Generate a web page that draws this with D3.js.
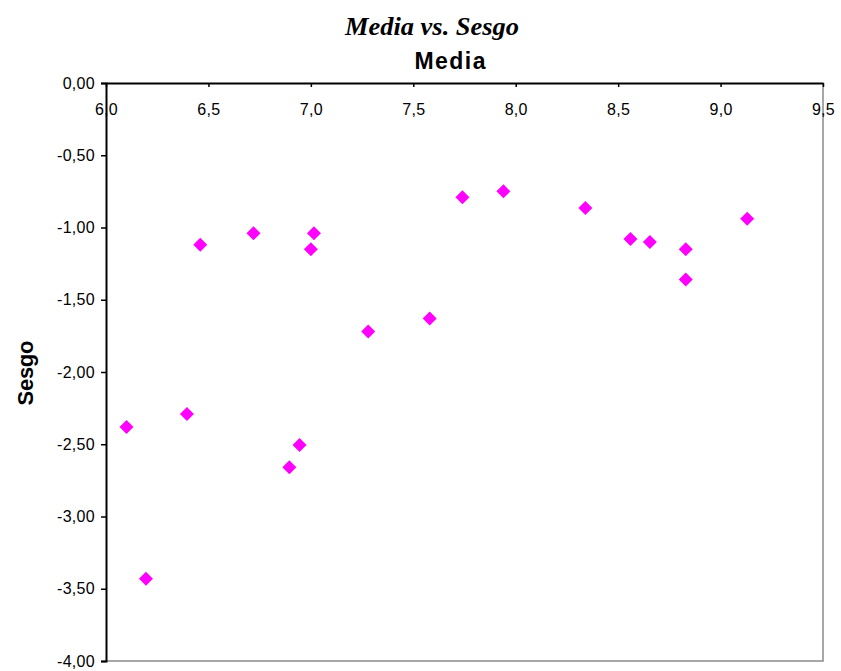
<!DOCTYPE html>
<html><head><meta charset="utf-8">
<script src="https://cdn.jsdelivr.net/npm/d3@7"></script>
<style>body{margin:0;background:#fff}svg{display:block}</style>
</head><body>
<script>
const media = [6.10, 6.195, 6.395, 6.46, 6.72, 6.895, 6.945, 7.00, 7.015, 7.28, 7.58, 7.74, 7.94, 8.34, 8.56, 8.655, 8.83, 8.83, 9.13];
const sesgo = [-2.38, -3.43, -2.29, -1.12, -1.04, -2.66, -2.505, -1.15, -1.04, -1.72, -1.63, -0.79, -0.75, -0.865, -1.08, -1.10, -1.15, -1.36, -0.94];
const xTicks = [6.0, 6.5, 7.0, 7.5, 8.0, 8.5, 9.0, 9.5];
const yTicks = [0, -0.5, -1.0, -1.5, -2.0, -2.5, -3.0, -3.5, -4.0];
const title = "Media vs. Sesgo";
const xTitle = "Media";
const yTitle = "Sesgo";

const W = 841, H = 671;
const L = 106, R = 823, T = 83, B = 661;
const svg = d3.select("body").append("svg").attr("width", W).attr("height", H);
const x = d3.scaleLinear().domain([6, 9.5]).range([L, R]);
const y = d3.scaleLinear().domain([0, -4]).range([T, B]);
const fmtX = v => v.toFixed(1).replace(".", ",");
const fmtY = v => v.toFixed(2).replace(".", ",");

// plot border (gray right/bottom)
svg.append("path").attr("d", `M${R},${T}V${B}H${L}`).attr("fill", "none").attr("stroke", "#8a8a8a").attr("stroke-width", 1.5);

const tickFont = "Arial, 'Liberation Sans', sans-serif";
// y axis
const ya = svg.append("g").attr("transform", `translate(${L},0)`)
  .call(d3.axisLeft(y).tickValues(yTicks).tickFormat(fmtY).tickSize(5).tickPadding(6));
ya.select(".domain").attr("stroke", "#000").attr("stroke-width", 2);
ya.selectAll(".tick line").attr("stroke", "#000").attr("stroke-width", 1.5);
ya.selectAll(".tick text").attr("font-family", tickFont).attr("font-size", 16).attr("fill", "#000").attr("letter-spacing", 0.3);

// x axis at top (y=0), ticks inward
const xa = svg.append("g").attr("transform", `translate(0,${y(0)})`)
  .call(d3.axisBottom(x).tickValues(xTicks).tickFormat(fmtX).tickSize(4).tickPadding(17).tickSizeOuter(0));
xa.select(".domain").attr("stroke", "#000").attr("stroke-width", 2);
xa.selectAll(".tick line").attr("stroke", "#000").attr("stroke-width", 1.5);
xa.selectAll(".tick text").attr("font-family", tickFont).attr("font-size", 16).attr("fill", "#000").attr("letter-spacing", 0.3);

// points
const pts = media.map((m, i) => ({m, s: sesgo[i]}));
svg.append("g").selectAll("path").data(pts).join("path")
  .attr("d", d3.symbol().type(d3.symbolSquare).size(98))
  .attr("transform", d => `translate(${x(d.m)},${y(d.s)}) rotate(45)`)
  .attr("fill", "#ff00ff");

// titles
svg.append("text").attr("x", 432).attr("y", 35).attr("text-anchor", "middle")
  .attr("font-family", "'Liberation Serif', 'Times New Roman', serif").attr("font-weight", "bold").attr("font-style", "italic")
  .attr("font-size", 26).attr("textLength", 174).attr("lengthAdjust", "spacingAndGlyphs").text(title);
svg.append("text").attr("x", 450).attr("y", 69).attr("text-anchor", "middle")
  .attr("font-family", "Arial, 'Liberation Sans', sans-serif").attr("font-weight", "bold")
  .attr("font-size", 23).attr("textLength", 71).text(xTitle);
svg.append("text").attr("transform", "translate(33,373) rotate(-90)").attr("text-anchor", "middle")
  .attr("font-family", "Arial, 'Liberation Sans', sans-serif").attr("font-weight", "bold")
  .attr("font-size", 22).attr("textLength", 65).text(yTitle);
</script>
</body></html>
